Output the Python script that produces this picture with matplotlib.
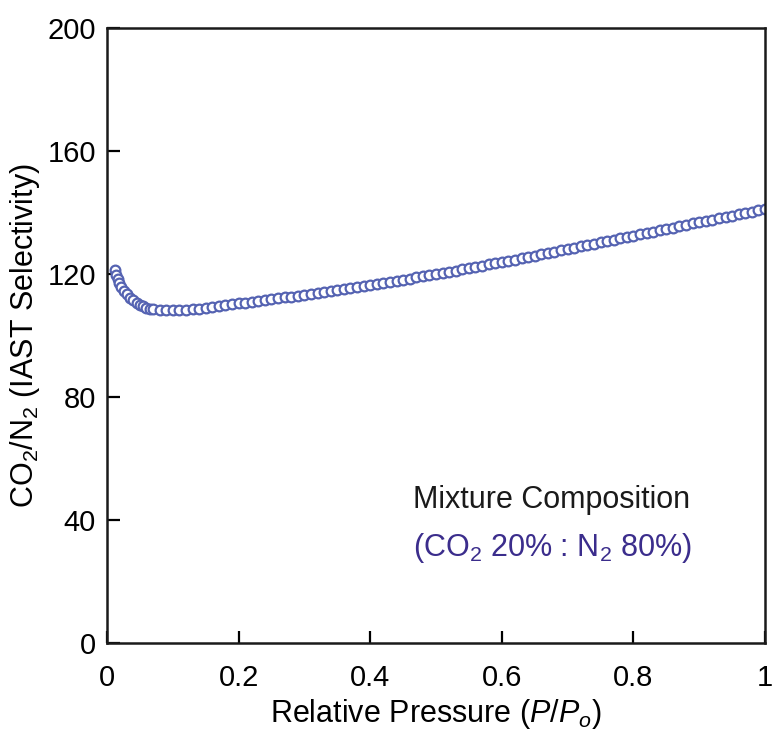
import matplotlib
matplotlib.use("Agg")
import matplotlib.pyplot as plt

# relative pressure P/Po
pressure = [
    0.012, 0.014, 0.016, 0.019, 0.022, 0.026, 0.030, 0.035, 0.040, 0.045,
    0.050, 0.055, 0.060, 0.065, 0.070, 0.080, 0.090, 0.100, 0.110, 0.120,
    0.130, 0.140, 0.150, 0.160, 0.170, 0.180, 0.190, 0.200,
    0.21, 0.22, 0.23, 0.24, 0.25, 0.26, 0.27, 0.28, 0.29, 0.30,
    0.31, 0.32, 0.33, 0.34, 0.35, 0.36, 0.37, 0.38, 0.39, 0.40,
    0.41, 0.42, 0.43, 0.44, 0.45, 0.46, 0.47, 0.48, 0.49, 0.50,
    0.51, 0.52, 0.53, 0.54, 0.55, 0.56, 0.57, 0.58, 0.59, 0.60,
    0.61, 0.62, 0.63, 0.64, 0.65, 0.66, 0.67, 0.68, 0.69, 0.70,
    0.71, 0.72, 0.73, 0.74, 0.75, 0.76, 0.77, 0.78, 0.79, 0.80,
    0.81, 0.82, 0.83, 0.84, 0.85, 0.86, 0.87, 0.88, 0.89, 0.90,
    0.91, 0.92, 0.93, 0.94, 0.95, 0.96, 0.97, 0.98, 0.99, 1.00,
]

# CO2/N2 IAST selectivity
selectivity = [
    121.2, 119.8, 118.5, 117.1, 115.8, 114.5, 113.4, 112.3, 111.4, 110.6,
    110.0, 109.5, 109.0, 108.7, 108.5, 108.3, 108.2, 108.2, 108.2, 108.3,
    108.5, 108.7, 108.9, 109.2, 109.5, 109.8, 110.1, 110.4,
    110.7, 110.9, 111.2, 111.5, 111.8, 112.1, 112.4, 112.6, 112.9, 113.2,
    113.5, 113.8, 114.1, 114.4, 114.7, 115.0, 115.3, 115.7, 116.0, 116.3,
    116.7, 117.0, 117.4, 117.7, 118.1, 118.5, 118.9, 119.2, 119.6, 120.0,
    120.4, 120.8, 121.1, 121.5, 121.9, 122.3, 122.7, 123.1, 123.5, 123.9,
    124.3, 124.7, 125.2, 125.6, 126.0, 126.4, 126.8, 127.3, 127.7, 128.1,
    128.5, 129.0, 129.4, 129.9, 130.3, 130.7, 131.2, 131.6, 132.1, 132.5,
    132.9, 133.4, 133.8, 134.3, 134.7, 135.1, 135.6, 136.0, 136.5, 136.9,
    137.3, 137.7, 138.2, 138.6, 139.0, 139.4, 139.8, 140.3, 140.7, 141.1,
]

x_ticks = [0, 0.2, 0.4, 0.6, 0.8, 1]
x_ticklabels = ["0", "0.2", "0.4", "0.6", "0.8", "1"]
y_ticks = [0, 40, 80, 120, 160, 200]

plt.rcParams["font.family"] = ["Liberation Sans", "DejaVu Sans"]
plt.rcParams["mathtext.fontset"] = "custom"
plt.rcParams["mathtext.rm"] = "Liberation Sans"
plt.rcParams["mathtext.it"] = "Liberation Sans:italic"

fig = plt.figure(figsize=(7.73, 7.36), dpi=100)
ax = fig.add_axes([0.1384, 0.1264, 0.8513, 0.8356])

ax.plot(pressure, selectivity, linestyle="none", marker="o", markersize=7,
        markerfacecolor="white", markeredgecolor="#5563b2", markeredgewidth=1.6)

ax.set_xlim(0, 1)
ax.set_ylim(0, 200)
ax.set_xticks(x_ticks)
ax.set_xticklabels(x_ticklabels)
ax.set_yticks(y_ticks)

for s in ax.spines.values():
    s.set_linewidth(1.8)
    s.set_color("#1a1a1a")

ax.tick_params(axis="both", direction="in", width=1.6, length=9, labelsize=21,
               top=False, right=False)
ax.tick_params(axis="y", pad=8)
ax.tick_params(axis="x", pad=15)

ax.set_xlabel(r"Relative Pressure ($\mathit{P}$/$\mathit{P}_{\mathit{o}}$)",
              fontsize=22, labelpad=4)
ax.set_ylabel(r"CO$_2$/N$_2$ (IAST Selectivity)", fontsize=22, labelpad=4)

ax.text(0.4648, 0.2195, "Mixture Composition", transform=ax.transAxes,
        fontsize=22, color="#1a1a1a")
ax.text(0.4648, 0.1415, r"(CO$_2$ 20% : N$_2$ 80%)", transform=ax.transAxes,
        fontsize=22, color="#3b2d8c")

fig.savefig("out.png", dpi=100)
